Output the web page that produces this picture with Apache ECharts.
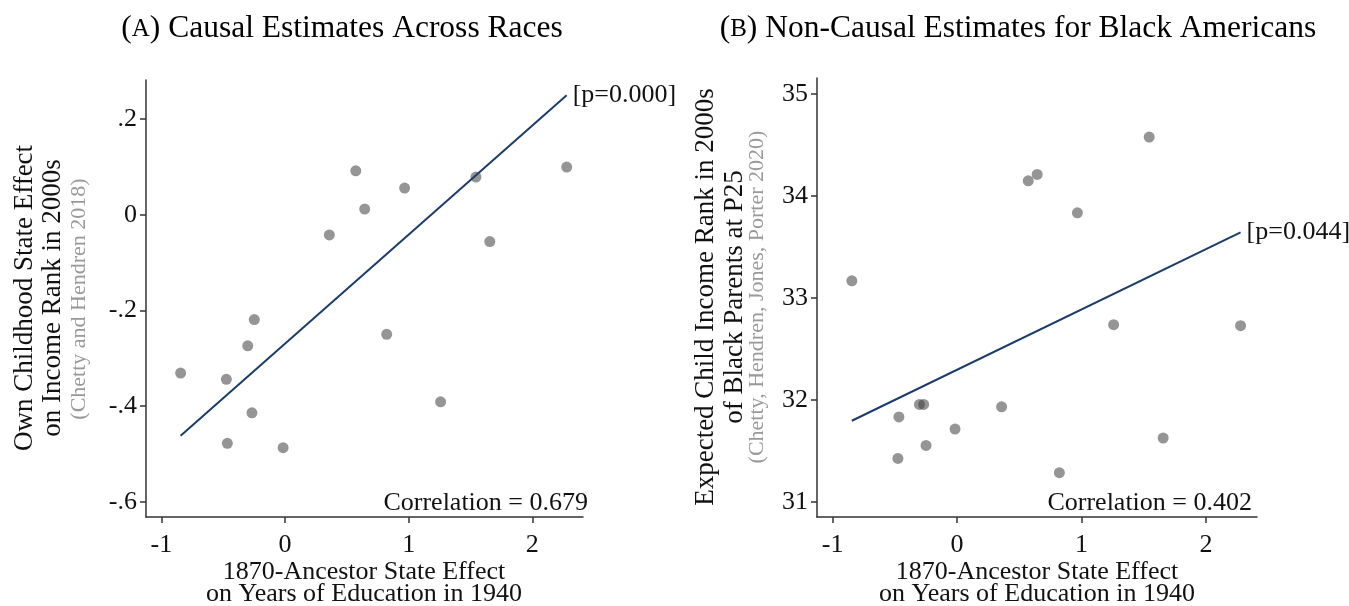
<!DOCTYPE html>
<html>
<head>
<meta charset="utf-8">
<script src="https://cdn.jsdelivr.net/npm/echarts@6/dist/echarts.min.js"></script>
<style>
  html, body { margin: 0; padding: 0; background: #fff; }
  #chart { width: 1349px; height: 606px; }
</style>
</head>
<body>
<div id="chart"></div>
<script>
// 1870-ancestor state effect on years of education in 1940 (one value per state, shared by both panels)
const ancestorEffect = [-0.845, -0.475, -0.467, -0.302, -0.268, -0.249, -0.016, 0.358,
                        0.572, 0.644, 0.822, 0.967, 1.258, 1.544, 1.656, 2.278];
// Panel A: own childhood state effect on income rank in 2000s
const ownChildhoodEffect = [-0.331, -0.344, -0.478, -0.274, -0.414, -0.219, -0.487, -0.042,
                            0.092, 0.012, -0.250, 0.056, -0.391, 0.079, -0.056, 0.100];
// Panel B: expected child income rank in 2000s of Black parents at P25
const blackChildRank = [33.167, 31.427, 31.833, 31.956, 31.956, 31.554, 31.715, 31.933,
                        34.147, 34.209, 31.287, 33.833, 32.737, 34.575, 31.627, 32.727];

// fitted line values at the smallest and largest x
const fitLineA = [-0.462, 0.250];
const fitLineB = [31.796, 33.641];
const pValueLabels = ['[p=0.000]', '[p=0.044]'];
const correlationLabels = ['Correlation = 0.679', 'Correlation = 0.402'];

const xTickValues = [-1, 0, 1, 2];
const yTickValuesA = [-0.6, -0.4, -0.2, 0, 0.2];
const yTickLabelsA = ['-.6', '-.4', '-.2', '0', '.2'];
const yTickValuesB = [31, 32, 33, 34, 35];

const panelLetters = ['A', 'B'];
const panelTitles = ['Causal Estimates Across Races', 'Non-Causal Estimates for Black Americans'];
const yTitlesA = ['Own Childhood State Effect', 'on Income Rank in 2000s', '(Chetty and Hendren 2018)'];
const yTitlesB = ['Expected Child Income Rank in 2000s', 'of Black Parents at P25', '(Chetty, Hendren, Jones, Porter 2020)'];
const xTitle = ['1870-Ancestor State Effect', 'on Years of Education in 1940'];

const SERIF = "'Liberation Serif', 'DejaVu Serif', serif";
const INK = '#111';
const AXIS = '#333';
const DOT = 'rgba(60,60,60,0.68)';
const FIT = '#1b3c6b';

const xMin = Math.min(...ancestorEffect);
const xMax = Math.max(...ancestorEffect);

function pairs(ys) { return ancestorEffect.map((x, i) => [x, ys[i]]); }

function xAxisFor(gridIndex) {
  return {
    type: 'value', gridIndex, min: -1.125, max: 2.41,
    splitLine: { show: false },
    axisLine: { show: true, onZero: false, lineStyle: { color: AXIS, width: 1.5 } },
    axisTick: { show: true, length: 6, customValues: xTickValues, lineStyle: { color: AXIS, width: 1.5 } },
    axisLabel: { customValues: xTickValues, margin: 15, fontFamily: SERIF, fontSize: 26, color: INK }
  };
}

function yAxisFor(gridIndex, min, max, ticks, fmt) {
  return {
    type: 'value', gridIndex, min, max,
    splitLine: { show: false },
    axisLine: { show: true, onZero: false, lineStyle: { color: AXIS, width: 1.5 } },
    axisTick: { show: true, length: 6, customValues: ticks, lineStyle: { color: AXIS, width: 1.5 } },
    axisLabel: { customValues: ticks, margin: 9, fontFamily: SERIF, fontSize: 26, color: INK, formatter: fmt }
  };
}

function fitSeries(idx, ends, label) {
  return {
    type: 'line', xAxisIndex: idx, yAxisIndex: idx, silent: true,
    data: [[xMin, ends[0]], [xMax, ends[1]]],
    symbol: 'none', lineStyle: { color: FIT, width: 2 },
    endLabel: { show: true, formatter: label, distance: 6, fontFamily: SERIF, fontSize: 26, color: INK },
    z: 3
  };
}

function scatterSeries(idx, ys) {
  return {
    type: 'scatter', xAxisIndex: idx, yAxisIndex: idx, silent: true,
    data: pairs(ys), symbolSize: 11, itemStyle: { color: DOT }, z: 2
  };
}

function txt(x, y, text, opts) {
  opts = opts || {};
  return {
    type: 'text', x, y, rotation: opts.rot || 0, silent: true,
    style: {
      text, fill: opts.fill || INK, align: opts.align || 'center', verticalAlign: 'middle',
      font: (opts.size || 26) + 'px ' + SERIF
    }
  };
}

const titleRich = {
  p: { fontFamily: SERIF, fontSize: 31.5, color: INK },
  s: { fontFamily: SERIF, fontSize: 25, color: INK }
};

// each panel caption is centred over its half of the figure
function panelTitle(x, i) {
  return {
    type: 'text', x, y: 29, silent: true,
    style: {
      text: '{p|(}{s|' + panelLetters[i] + '}{p|) ' + panelTitles[i] + '}',
      align: 'center', verticalAlign: 'middle', rich: titleRich
    }
  };
}

const graphics = [
  panelTitle(342, 0),
  panelTitle(1018, 1),
  // y-axis titles
  txt(25, 298, yTitlesA[0], { rot: Math.PI / 2, size: 27 }),
  txt(53, 298, yTitlesA[1], { rot: Math.PI / 2, size: 27 }),
  txt(79, 299, yTitlesA[2], { rot: Math.PI / 2, size: 22, fill: '#999' }),
  txt(706, 297, yTitlesB[0], { rot: Math.PI / 2, size: 27 }),
  txt(735, 297, yTitlesB[1], { rot: Math.PI / 2, size: 27 }),
  txt(757, 297, yTitlesB[2], { rot: Math.PI / 2, size: 22, fill: '#999' }),
  // x-axis titles
  txt(364, 572, xTitle[0]),
  txt(364, 594, xTitle[1]),
  txt(1037, 572, xTitle[0]),
  txt(1037, 594, xTitle[1]),
  // correlation notes
  txt(588, 503, correlationLabels[0], { align: 'right' }),
  txt(1252, 503, correlationLabels[1], { align: 'right' })
];

const option = {
  backgroundColor: '#fff',
  animation: false,
  grid: [
    { left: 146, top: 80, width: 437, height: 437 },
    { left: 817, top: 78, width: 440, height: 439 }
  ],
  xAxis: [xAxisFor(0), xAxisFor(1)],
  yAxis: [
    yAxisFor(0, -0.632, 0.282, yTickValuesA, v => {
      const i = yTickValuesA.findIndex(t => Math.abs(t - v) < 1e-9);
      return i >= 0 ? yTickLabelsA[i] : '';
    }),
    yAxisFor(1, 30.853, 35.154, yTickValuesB, v => String(Math.round(v)))
  ],
  series: [
    scatterSeries(0, ownChildhoodEffect),
    fitSeries(0, fitLineA, pValueLabels[0]),
    scatterSeries(1, blackChildRank),
    fitSeries(1, fitLineB, pValueLabels[1])
  ],
  graphic: graphics
};

const chart = echarts.init(document.getElementById('chart'), null, { renderer: 'canvas' });
chart.setOption(option);
</script>
</body>
</html>
